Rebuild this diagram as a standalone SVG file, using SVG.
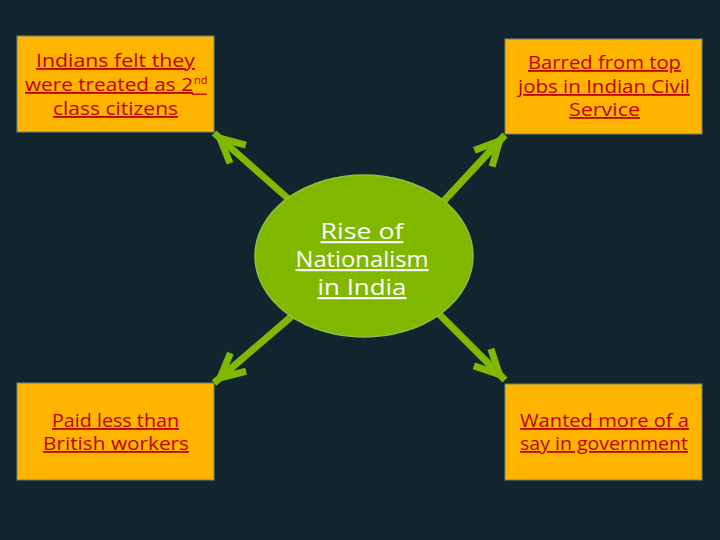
<svg xmlns="http://www.w3.org/2000/svg" width="720" height="540" viewBox="0 0 720 540">
<style>
.box{fill:#ffb400;stroke:#6f8580;stroke-width:1}
.t{font-family:"Open Sans","DejaVu Sans",sans-serif;font-size:18px;fill:#c00000;text-anchor:middle;text-decoration:underline}
.c{font-family:"Open Sans","DejaVu Sans",sans-serif;font-size:22px;fill:#ffffff;text-anchor:middle;text-decoration:underline}
.arrow{stroke:#80b800;stroke-width:7;fill:none;marker-end:url(#head)}
</style>
<defs>
<marker id="head" markerUnits="userSpaceOnUse" markerWidth="50" markerHeight="50" viewBox="-35 -25 50 50" refX="8" refY="0" orient="auto" overflow="visible">
<path d="M -24,-12 L 0,0 L -24,12" fill="none" stroke="#80b800" stroke-width="7" stroke-linejoin="miter" stroke-miterlimit="10"/>
</marker>
</defs>
<rect width="720" height="540" fill="#12242e"/>
<g id="connectors">
<line class="arrow" x1="292" y1="202" x2="214" y2="133"/>
<line class="arrow" x1="441" y1="204" x2="505" y2="135"/>
<line class="arrow" x1="292" y1="316" x2="214" y2="383"/>
<line class="arrow" x1="436" y1="311" x2="505" y2="380"/>
</g>
<g id="center">
<ellipse cx="364" cy="256" rx="109" ry="81" fill="#80b800" stroke="#8cbf45" stroke-width="1.5"/>
<text class="c" x="362" y="239" textLength="83" lengthAdjust="spacingAndGlyphs">Rise of</text>
<text class="c" x="362" y="267" textLength="133" lengthAdjust="spacingAndGlyphs">Nationalism</text>
<text class="c" x="362" y="295" textLength="89" lengthAdjust="spacingAndGlyphs">in India</text>
</g>
<g id="box-tl">
<rect class="box" x="17" y="36" width="197" height="96"/>
<text class="t" x="115.5" y="67" textLength="159" lengthAdjust="spacingAndGlyphs">Indians felt they</text>
<text class="t" x="109" y="91" textLength="168" lengthAdjust="spacingAndGlyphs">were treated as 2</text>
<text x="194" y="84" font-family="Open Sans, DejaVu Sans, sans-serif" font-size="11" fill="#c00000">nd</text>
<line x1="192" y1="94.2" x2="207" y2="94.2" stroke="#c00000" stroke-width="1.3"/>
<text class="t" x="115.5" y="115" textLength="125" lengthAdjust="spacingAndGlyphs">class citizens</text>
</g>
<g id="box-tr">
<rect class="box" x="505" y="39" width="197" height="95"/>
<text class="t" x="604.5" y="69" textLength="153" lengthAdjust="spacingAndGlyphs">Barred from top</text>
<text class="t" x="604" y="93" textLength="172" lengthAdjust="spacingAndGlyphs">jobs in Indian Civil</text>
<text class="t" x="604.5" y="116" textLength="71" lengthAdjust="spacingAndGlyphs">Service</text>
</g>
<g id="box-bl">
<rect class="box" x="17" y="383" width="197" height="97"/>
<text class="t" x="115.5" y="427" textLength="127" lengthAdjust="spacingAndGlyphs">Paid less than</text>
<text class="t" x="116" y="450" textLength="146" lengthAdjust="spacingAndGlyphs">British workers</text>
</g>
<g id="box-br">
<rect class="box" x="505" y="384" width="197" height="96"/>
<text class="t" x="604.5" y="427" textLength="169" lengthAdjust="spacingAndGlyphs">Wanted more of a</text>
<text class="t" x="604" y="450" textLength="168" lengthAdjust="spacingAndGlyphs">say in government</text>
</g>
</svg>
